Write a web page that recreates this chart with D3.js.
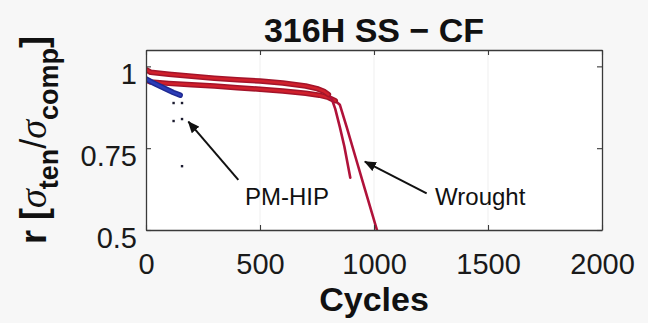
<!DOCTYPE html>
<html lang="en">
<head>
  <meta charset="UTF-8">
  <script type="text/javascript" src="https://cdn.jsdelivr.net/npm/d3@7/dist/d3.min.js"></script>
  <title>316H SS - CF</title>
  <style type="text/css">
    * {
      margin: 0;
      padding: 0;
    }

    html, body {
      width: 100%;
      height: 100%;
      background-color: #f7f7f7;
    }

    svg {
      display: block;
      font-family: "Liberation Sans", Arial, sans-serif;
    }
  </style>
</head>

<body>
<div id="box"></div>
</body>
<script type="text/javascript">
  // data (cycles, r = sigma_ten / sigma_comp)
  var wroughtACycles = [0, 20, 100, 200, 300, 400, 500, 600, 700, 750, 780, 800, 815, 830, 850, 870, 896]
  var wroughtAValues = [0.99, 0.982, 0.976, 0.97, 0.964, 0.959, 0.955, 0.949, 0.94, 0.932, 0.924, 0.914, 0.9, 0.87, 0.815, 0.755, 0.66]

  var wroughtBCycles = [0, 20, 100, 200, 300, 400, 500, 600, 700, 760, 800, 830, 850, 880, 920, 960, 1013]
  var wroughtBValues = [0.958, 0.952, 0.948, 0.944, 0.94, 0.935, 0.93, 0.925, 0.918, 0.912, 0.905, 0.895, 0.883, 0.815, 0.72, 0.625, 0.5]

  var pmhipCycles = [0, 10, 30, 60, 90, 120, 150]
  var pmhipValues = [0.962, 0.958, 0.95, 0.94, 0.93, 0.92, 0.912]

  // stray points at the end of the PM-HIP test
  var pmhipDotCycles = [121, 158, 121, 158, 158]
  var pmhipDotValues = [0.888, 0.888, 0.833, 0.839, 0.695]

  var xTicks = [0, 500, 1000, 1500, 2000]
  var yTicks = [0.5, 0.75, 1]

  // annotations: [tail cycle, tail r, head cycle, head r, text cycle, text r]
  var noteLabels = ['PM-HIP', 'Wrought']
  var noteArrows = [[405, 0.653, 186, 0.831, 434, 0.576], [1231, 0.612, 960, 0.709, 1268, 0.576]]

  // canvas
  var width = 648
  var height = 323
  var svg = d3.select('#box')
    .append('svg')
    .attr('width', width)
    .attr('height', height)

  var x = d3.scaleLinear().domain([0, 2000]).range([146, 602])
  var y = d3.scaleLinear().domain([0.5, 1.05]).range([230, 50])

  var x0 = x.range()[0], x1 = x.range()[1]
  var yb = y.range()[0], yt = y.range()[1]

  svg.append('rect')
    .attr('x', x0).attr('y', yt)
    .attr('width', x1 - x0).attr('height', yb - yt)
    .attr('fill', '#fff')

  // faint grid
  svg.append('g').selectAll('line')
    .data(xTicks.slice(1, -1))
    .enter().append('line')
    .attr('x1', d => x(d)).attr('x2', d => x(d))
    .attr('y1', yt).attr('y2', yb)
    .attr('stroke', '#efefef')

  svg.append('clipPath').attr('id', 'clip')
    .append('rect')
    .attr('x', x0).attr('y', yt)
    .attr('width', x1 - x0).attr('height', yb - yt)

  var plot = svg.append('g').attr('clip-path', 'url(#clip)')

  var line = d3.line().x(d => x(d.c)).y(d => y(d.r))

  function pts(cyc, val) {
    return cyc.map(function (c, i) { return {c: c, r: val[i]} })
  }

  // noisy flat part drawn as a thick band, the drop as a thin line
  function curve(cyc, val, bandEnd, edge, core, thin) {
    var p = pts(cyc, val)
    var flat = p.filter(d => d.c <= bandEnd)
    plot.append('path').datum(p)
      .attr('d', line).attr('fill', 'none')
      .attr('stroke', thin).attr('stroke-width', 2.6)
      .attr('stroke-linecap', 'round').attr('stroke-linejoin', 'round')
    plot.append('path').datum(flat)
      .attr('d', line).attr('fill', 'none')
      .attr('stroke', edge).attr('stroke-width', 5.5)
      .attr('stroke-linecap', 'round').attr('stroke-linejoin', 'round')
    plot.append('path').datum(flat)
      .attr('d', line).attr('fill', 'none')
      .attr('stroke', core).attr('stroke-width', 2.5)
      .attr('stroke-linecap', 'round').attr('stroke-linejoin', 'round')
  }

  curve(wroughtBCycles, wroughtBValues, 830, '#a3142a', '#d0202c', '#b0123a')
  curve(wroughtACycles, wroughtAValues, 800, '#a3142a', '#d0202c', '#b0123a')
  curve(pmhipCycles, pmhipValues, 150, '#1f2a92', '#2c3cb8', '#1f2a92')

  plot.selectAll('.dot')
    .data(pts(pmhipDotCycles, pmhipDotValues))
    .enter().append('rect')
    .attr('class', 'dot')
    .attr('x', d => x(d.c) - 1.2).attr('y', d => y(d.r) - 1.2)
    .attr('width', 2.4).attr('height', 2.4)
    .attr('fill', '#1c1c30')

  // axes, ticks inside like MATLAB
  var axisColor = '#3a3a3a'
  var xAxis = d3.axisBottom(x).tickValues(xTicks).tickSizeInner(-5).tickSizeOuter(0).tickPadding(23)
    .tickFormat(d3.format('d'))
  var yAxis = d3.axisLeft(y).tickValues(yTicks).tickSizeInner(-5).tickSizeOuter(0).tickPadding(9)
    .tickFormat(d => String(d))

  var gx = svg.append('g').attr('transform', 'translate(0,' + yb + ')').call(xAxis)
  var gy = svg.append('g').attr('transform', 'translate(' + x0 + ',0)').call(yAxis)
  var gx2 = svg.append('g').attr('transform', 'translate(0,' + yt + ')')
    .call(d3.axisTop(x).tickValues(xTicks).tickSizeInner(-5).tickSizeOuter(0).tickFormat(''))
  var gy2 = svg.append('g').attr('transform', 'translate(' + x1 + ',0)')
    .call(d3.axisRight(y).tickValues(yTicks).tickSizeInner(-5).tickSizeOuter(0).tickFormat(''))

  ;[gx, gy, gx2, gy2].forEach(function (g) {
    g.select('.domain').attr('stroke', axisColor).attr('stroke-width', 1.3)
    g.selectAll('.tick line').attr('stroke', axisColor).attr('stroke-width', 1.1)
    g.selectAll('.tick text')
      .attr('font-family', '"Liberation Sans", Arial, sans-serif')
      .attr('font-size', 29).attr('fill', '#1a1a1a')
  })
  gy.selectAll('.tick text').attr('dy', '0.6em')

  // annotations
  svg.append('defs').append('marker')
    .attr('id', 'head')
    .attr('viewBox', '0 0 12 10')
    .attr('refX', 11).attr('refY', 5)
    .attr('markerWidth', 12).attr('markerHeight', 10)
    .attr('markerUnits', 'userSpaceOnUse')
    .attr('orient', 'auto')
    .append('path').attr('d', 'M0,0 L12,5 L0,10 Z').attr('fill', '#111')

  noteArrows.forEach(function (a, i) {
    svg.append('line')
      .attr('x1', x(a[0])).attr('y1', y(a[1]))
      .attr('x2', x(a[2])).attr('y2', y(a[3]))
      .attr('stroke', '#111').attr('stroke-width', 2)
      .attr('marker-end', 'url(#head)')
    svg.append('text')
      .attr('x', x(a[4])).attr('y', y(a[5]))
      .attr('font-size', 24).attr('fill', '#111')
      .text(noteLabels[i])
  })

  // title and labels
  svg.append('text')
    .attr('x', (x0 + x1) / 2).attr('y', 42)
    .attr('text-anchor', 'middle')
    .attr('font-size', 34).attr('font-weight', 'bold').attr('fill', '#111')
    .text('316H SS \u2212 CF')

  svg.append('text')
    .attr('x', (x0 + x1) / 2).attr('y', 311)
    .attr('text-anchor', 'middle')
    .attr('font-size', 34).attr('font-weight', 'bold').attr('fill', '#111')
    .text('Cycles')

  var yl = svg.append('text')
    .attr('transform', 'translate(46,' + ((yt + yb) / 2) + ') rotate(-90)')
    .attr('text-anchor', 'middle')
    .attr('font-size', 36).attr('font-weight', 'bold').attr('fill', '#111')
  yl.append('tspan').text('r  [')
  yl.append('tspan').attr('font-style', 'italic').attr('font-weight', 'normal')
    .attr('font-family', '"Liberation Serif", serif').attr('font-size', 38).text('\u03c3')
  yl.append('tspan').attr('font-size', 27).attr('dy', 12).text('ten')
  yl.append('tspan').attr('dy', -12).attr('font-weight', 'normal').text('/')
  yl.append('tspan').attr('font-style', 'italic').attr('font-weight', 'normal')
    .attr('font-family', '"Liberation Serif", serif').attr('font-size', 38).text('\u03c3')
  yl.append('tspan').attr('font-size', 27).attr('dy', 12).text('comp')
  yl.append('tspan').attr('dy', -12).text(']')
</script>
</html>
